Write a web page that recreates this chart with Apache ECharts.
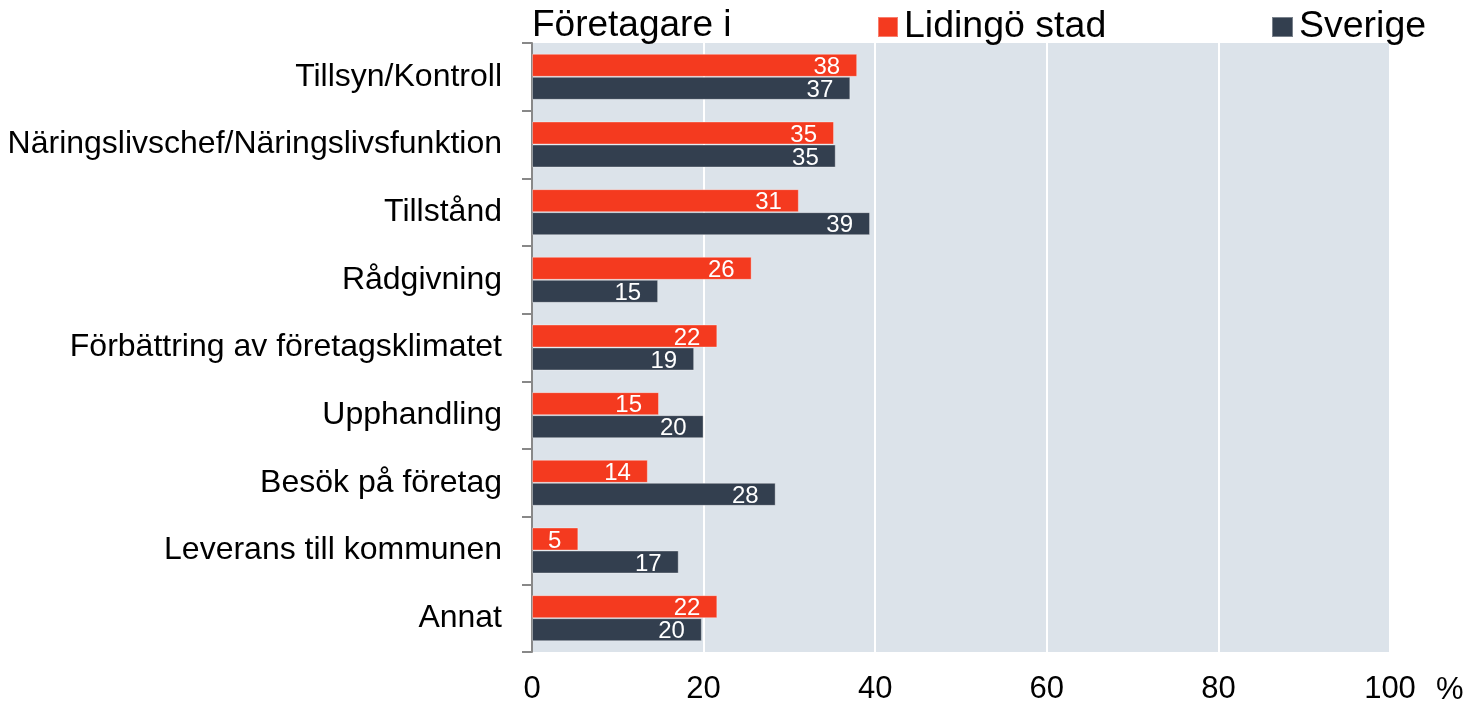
<!DOCTYPE html>
<html>
<head>
<meta charset="utf-8">
<script src="https://cdn.jsdelivr.net/npm/echarts@6/dist/echarts.min.js"></script>
<style>
html,body{margin:0;padding:0;background:#fff;}
#c{width:1467px;height:703px;}
</style>
</head>
<body>
<div id="c"></div>
<script>
const categories = ['Tillsyn/Kontroll','Näringslivschef/Näringslivsfunktion','Tillstånd','Rådgivning','Förbättring av företagsklimatet','Upphandling','Besök på företag','Leverans till kommunen','Annat'];
const lidingo = [37.9, 35.2, 31.1, 25.6, 21.6, 14.8, 13.5, 5.4, 21.6];
const sverige = [37.1, 35.4, 39.4, 14.7, 18.9, 20.0, 28.4, 17.1, 19.8];
const xTicks = [0, 20, 40, 60, 80, 100];
const FONT = '"Liberation Sans", Arial, sans-serif';

const chart = echarts.init(document.getElementById('c'), null, {renderer:'canvas'});
const labelCfg = {
  show: true, position: 'insideRight', distance: 17, offset: [0, 2],
  color: '#fff', fontSize: 24, fontFamily: FONT,
  formatter: p => Math.round(p.value)
};
chart.setOption({
  animation: false,
  textStyle: {fontFamily: FONT},
  title: {text: 'Företagare i', left: 532, top: 7, padding: 0, textStyle: {fontSize: 37, fontWeight: 'normal', color: '#000', fontFamily: FONT}},
  legend: [
    {data: ['Lidingö stad'], left: 877, top: 8, padding: 0, itemWidth: 20, itemHeight: 20, icon: 'rect', itemGap: 8,
     textStyle: {fontSize: 37.5, color: '#000', fontFamily: FONT, padding:[0,0,0,1]}},
    {data: ['Sverige'], left: 1271, top: 8, padding: 0, itemWidth: 21, itemHeight: 20, icon: 'rect',
     textStyle: {fontSize: 37.5, color: '#000', fontFamily: FONT, padding:[0,0,0,1]}}
  ],
  grid: {left: 532, right: 77, top: 43, bottom: 51, show: true, backgroundColor: '#DCE3EA', borderWidth: 0,
         containLabel: false, outerBoundsMode: 'none'},
  xAxis: {
    type: 'value', min: 0, max: 100, interval: 20,
    axisLine: {show: false}, axisTick: {show: false},
    splitLine: {show: true, lineStyle: {color: '#fff', width: 2}},
    axisLabel: {fontSize: 31, color: '#000', fontFamily: FONT, margin: 22,
      formatter: v => xTicks.includes(v) ? String(v) : ''}
  },
  yAxis: {
    type: 'category', data: categories, inverse: true,
    axisLine: {show: true, lineStyle: {color: '#888', width: 2}},
    axisTick: {show: true, length: 10, lineStyle: {color: '#888', width: 2}},
    axisLabel: {fontSize: 32, color: '#000', fontFamily: FONT, margin: 30, padding: [6, 0, 0, 0]}
  },
  graphic: [{type: 'text', left: 1436, top: 675, style: {text: '%', fontSize: 31, fill: '#000', fontFamily: FONT}}],
  series: [
    {name: 'Lidingö stad', type: 'bar', data: lidingo, barGap: '0%', barCategoryGap: '32%',
     itemStyle: {color: '#F43A1F', borderColor: 'rgba(255,255,255,0.35)', borderWidth: 1}, label: labelCfg},
    {name: 'Sverige', type: 'bar', data: sverige, barGap: '0%', barCategoryGap: '32%',
     itemStyle: {color: '#333F4F', borderColor: 'rgba(255,255,255,0.35)', borderWidth: 1}, label: labelCfg}
  ]
});
</script>
</body>
</html>
